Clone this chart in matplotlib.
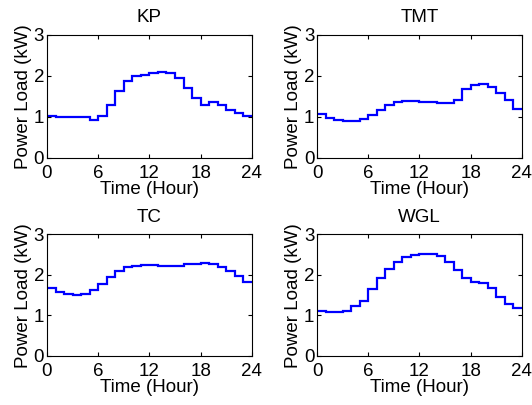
import numpy as np
import matplotlib
matplotlib.use('Agg')
import matplotlib.pyplot as plt

plt.rcParams['font.family'] = ['Liberation Sans', 'DejaVu Sans']
plt.rcParams['font.size'] = 13.5

hours = np.arange(25)  # step edges 0..24

kp = [1.02, 1.0, 0.99, 0.99, 0.99, 0.92, 1.02, 1.3, 1.62, 1.87, 2.0, 2.03,
      2.07, 2.1, 2.08, 1.95, 1.7, 1.46, 1.3, 1.36, 1.28, 1.17, 1.1, 1.03]
tmt = [1.08, 0.98, 0.92, 0.89, 0.89, 0.95, 1.04, 1.18, 1.3, 1.37, 1.39, 1.39,
       1.37, 1.36, 1.33, 1.34, 1.4, 1.67, 1.77, 1.79, 1.73, 1.59, 1.4, 1.2]
tc = [1.67, 1.58, 1.54, 1.51, 1.54, 1.62, 1.79, 1.96, 2.1, 2.19, 2.22, 2.24,
      2.24, 2.23, 2.22, 2.22, 2.26, 2.27, 2.3, 2.27, 2.19, 2.09, 1.98, 1.82]
wgl = [1.12, 1.09, 1.08, 1.1, 1.23, 1.37, 1.66, 1.93, 2.15, 2.33, 2.45, 2.5,
       2.52, 2.52, 2.47, 2.33, 2.12, 1.93, 1.83, 1.81, 1.67, 1.46, 1.28, 1.18]

names = ['KP', 'TMT', 'TC', 'WGL']
series = [kp, tmt, tc, wgl]

fig = plt.figure(figsize=(5.32, 4.05), dpi=100)
# axes positions in figure fractions [left, bottom, width, height]
pos = [[0.0883, 0.610, 0.385, 0.304],
       [0.596, 0.610, 0.385, 0.304],
       [0.0883, 0.121, 0.385, 0.300],
       [0.596, 0.121, 0.385, 0.300]]

for p, name, vals in zip(pos, names, series):
    ax = fig.add_axes(p)
    ax.stairs(vals, hours, color='blue', lw=1.6, baseline=None)
    ax.set_xlim(0, 24)
    ax.set_ylim(0, 3)
    ax.set_xticks([0, 6, 12, 18, 24])
    ax.set_yticks([0, 1, 2, 3])
    ax.tick_params(direction='in', top=True, right=True, length=3)
    ax.tick_params(axis='x', pad=5)
    ax.tick_params(axis='y', pad=2)
    ax.set_title(name, fontsize=13.5, pad=9)
    ax.set_xlabel('Time (Hour)', labelpad=-1)
    ax.set_ylabel('Power Load (kW)', labelpad=1)

fig.savefig('out.png', dpi=100)
